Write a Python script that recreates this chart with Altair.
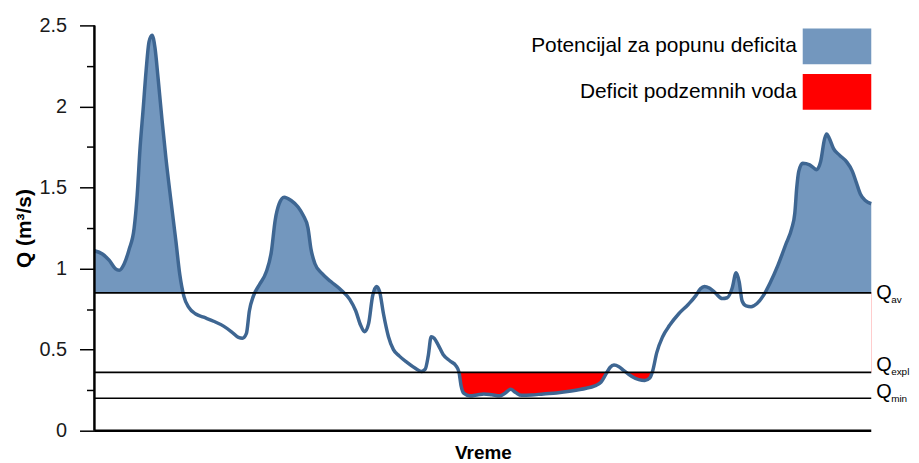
import altair as alt
import pandas as pd

# --- data ---
time = [0, 8, 15, 21, 25, 30, 35, 40, 43, 46, 49, 52, 55, 58, 61, 64, 68, 72, 77, 82,
        86, 90, 95, 102, 110, 120, 130, 138, 145, 149, 153, 156, 160, 166, 173, 178,
        182, 186, 191, 198, 205, 210, 215, 218, 222, 229, 238, 248, 257, 263, 268,
        272, 276, 280, 284, 287, 291, 296, 301, 307, 315, 323, 329, 333, 336, 339,
        342, 346, 351, 358, 364, 367, 369, 372, 378, 385, 392, 400, 408, 413, 419,
        424, 430, 440, 452, 465, 480, 495, 503, 510, 515, 519, 523, 528, 533, 541, 548,
        554, 559, 562, 566, 572, 579, 588, 598, 605, 610, 614, 619, 625, 632, 637,
        642, 646, 649, 652, 656, 661, 667, 673, 680, 688, 696, 702, 705, 707, 709,
        713, 720, 727, 731, 735, 737, 740, 744, 750, 757, 763, 767, 771, 776, 782]
flow = [1.11, 1.09, 1.05, 1.00, 0.99, 1.03, 1.12, 1.25, 1.45, 1.75, 1.98, 2.22,
        2.40, 2.44, 2.36, 2.18, 1.92, 1.68, 1.42, 1.17, 0.96, 0.83, 0.76, 0.72,
        0.70, 0.675, 0.645, 0.61, 0.575, 0.57, 0.60, 0.74, 0.83, 0.90, 0.98, 1.10,
        1.30, 1.40, 1.44, 1.42, 1.38, 1.33, 1.25, 1.12, 1.03, 0.97, 0.92, 0.87,
        0.81, 0.74, 0.65, 0.61, 0.66, 0.83, 0.89, 0.86, 0.72, 0.58, 0.50, 0.46,
        0.42, 0.385, 0.365, 0.38, 0.46, 0.58, 0.57, 0.53, 0.47, 0.43, 0.40, 0.36,
        0.28, 0.23, 0.215, 0.22, 0.227, 0.222, 0.215, 0.23, 0.255, 0.235, 0.218,
        0.22, 0.227, 0.233, 0.245, 0.262, 0.275, 0.30, 0.35, 0.39, 0.405, 0.395, 0.37,
        0.335, 0.315, 0.31, 0.325, 0.37, 0.48, 0.58, 0.65, 0.72, 0.78, 0.83,
        0.875, 0.89, 0.88, 0.85, 0.815, 0.82, 0.88, 0.975, 0.92, 0.80, 0.77,
        0.765, 0.785, 0.83, 0.91, 1.02, 1.15, 1.25, 1.34, 1.50, 1.60, 1.65,
        1.64, 1.61, 1.66, 1.80, 1.83, 1.80, 1.74, 1.70, 1.66, 1.60, 1.53, 1.46,
        1.42, 1.40]

thr_names = ["av", "expl", "min"]
thr_values = [0.85, 0.36, 0.20]
legend_labels = ["Potencijal za popunu deficita", "Deficit podzemnih voda"]
legend_colors = ["#7397be", "#ff0000"]
y_ticks = [0, 0.5, 1, 1.5, 2, 2.5]
y_minor = [0.25, 0.75, 1.25, 1.75, 2.25]
y_range = [0, 2.5]

# --- styling ---
FONT = "Liberation Sans"
LINE_COLOR = "#3e6692"
label_dy = {"av": 0, "expl": -7, "min": -6}
LEG_BOX_X, LEG_BOX_W, LEG_BOX_H = 713, 69, 36
LEG_TOP, LEG_STEP = 3, 46

Q_AV, Q_EXPL, Q_MIN = thr_values
t0, t1 = min(time), max(time)

df = pd.DataFrame({"t": time, "q": flow})
thr_df = pd.DataFrame({"name": thr_names, "v": thr_values})

xscale = alt.Scale(domain=[t0, t1], nice=False, zero=False)
yscale = alt.Scale(domain=y_range, nice=False)

x_axis = alt.Axis(title="Vreme", ticks=False, labels=False, grid=False,
                  domain=False, titleFont=FONT,
                  titleFontSize=19, titleFontWeight="bold", titleColor="black",
                  titlePadding=13)
y_axis = alt.Axis(values=y_ticks, format="~g", title="Q (m³/s)", orient="left",
                  grid=False, domain=False, labels=True, ticks=True,
                  tickColor="black", tickWidth=1.5, tickSize=15,
                  labelFont=FONT, labelFontSize=20, labelColor="#1a1a1a",
                  labelPadding=13, titleFont=FONT, titleFontSize=21,
                  titleFontWeight="bold", titleColor="black", titlePadding=5)
y_minor_axis = alt.Axis(values=y_minor, labels=False, domain=False, grid=False,
                        tickColor="black", tickWidth=1.5, tickSize=8,
                        title=None, orient="left")

color_scale = alt.Scale(domain=legend_labels, range=legend_colors)

base = alt.Chart(df)

blue = base.transform_calculate(cat=f"'{legend_labels[0]}'").mark_area(
    interpolate="monotone", opacity=1
).encode(
    x=alt.X("t:Q", scale=xscale, axis=x_axis),
    y=alt.Y("q:Q", scale=yscale, axis=y_axis),
    y2=alt.Y2Datum(Q_AV),
    color=alt.Color("cat:N", scale=color_scale, legend=None),
)

red = base.transform_calculate(
    cat=f"'{legend_labels[1]}'", qc=f"min(datum.q, {Q_AV})"
).mark_area(interpolate="monotone", opacity=1).encode(
    x="t:Q",
    y="qc:Q",
    y2=alt.Y2Datum(Q_EXPL),
    color=alt.Color("cat:N", scale=color_scale, legend=None),
)

mask = alt.Chart(pd.DataFrame({"a": [Q_EXPL], "b": [Q_AV]})).mark_rect(
    color="white", opacity=1
).encode(
    x=alt.XDatum(t0),
    x2=alt.X2Datum(t1),
    y="a:Q",
    y2="b:Q",
)

line = base.mark_line(interpolate="monotone", color=LINE_COLOR,
                      strokeWidth=3.5).encode(x="t:Q", y="q:Q")

# axis lines drawn on top of the filled areas
y_domain_line = alt.Chart(pd.DataFrame({"a": [y_range[0]], "b": [y_range[1]]})).mark_rule(
    color="black", strokeWidth=2.5).encode(
    x=alt.XDatum(t0), y="a:Q", y2="b:Q")
x_domain_line = alt.Chart(pd.DataFrame({"a": [y_range[0]]})).mark_rule(
    color="black", strokeWidth=2.5).encode(
    x=alt.XDatum(t0), x2=alt.X2Datum(t1), y="a:Q")

main_layers = [blue, red, mask, line, y_domain_line, x_domain_line]
for nm in thr_names:
    src = alt.Chart(thr_df).transform_filter(f"datum.name == '{nm}'")
    q_txt = src.mark_text(text="Q", align="left", baseline="middle", dx=5,
                          dy=label_dy[nm], font=FONT, fontSize=20,
                          color="black").encode(
        x=alt.XDatum(t1), y="v:Q")
    sub_txt = src.mark_text(align="left", baseline="middle", dx=20,
                            dy=label_dy[nm] + 7, font=FONT, fontSize=10,
                            color="black").encode(
        x=alt.XDatum(t1), y="v:Q", text="name:N")
    main_layers += [q_txt, sub_txt]

# legend (label left of the colour box, as in the reference)
for i, (lab, col) in enumerate(zip(legend_labels, legend_colors)):
    one = alt.Chart(pd.DataFrame({"label": [lab]}))
    top = LEG_TOP + i * LEG_STEP
    box = one.mark_rect(color=col, opacity=1).encode(
        x=alt.value(LEG_BOX_X), x2=alt.value(LEG_BOX_X + LEG_BOX_W),
        y=alt.value(top), y2=alt.value(top + LEG_BOX_H))
    txt = one.mark_text(align="right", baseline="middle", font=FONT,
                        fontSize=21, color="black").encode(
        x=alt.value(LEG_BOX_X - 6), y=alt.value(top + LEG_BOX_H / 2),
        text="label:N")
    main_layers += [box, txt]

main = alt.layer(*main_layers)

# threshold lines, carrying the minor-tick axis
rules = alt.Chart(thr_df).mark_rule(color="black", strokeWidth=1.6).encode(
    x=alt.XDatum(t0),
    x2=alt.X2Datum(t1),
    y=alt.Y("v:Q", axis=y_minor_axis),
)

chart = alt.layer(main, rules).resolve_axis(y="independent").properties(
    width=782, height=408,
    padding={"left": 87, "top": 16, "right": 40, "bottom": 31},
    autosize=alt.AutoSizeParams(type="none"),
).configure_view(stroke=None)

chart.save("out.html", embed_options={"renderer": "svg", "actions": False})
